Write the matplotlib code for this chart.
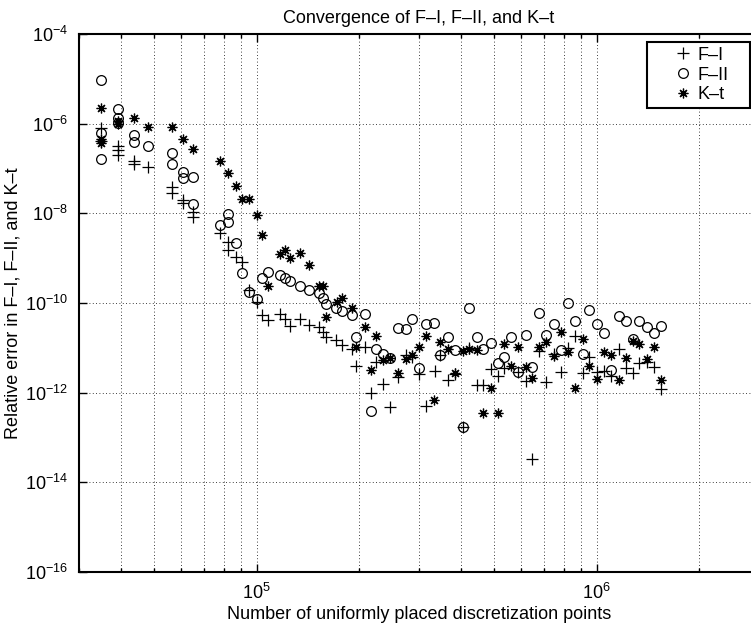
import matplotlib
matplotlib.use("Agg")
import matplotlib.pyplot as plt
from matplotlib.patches import Rectangle
from matplotlib.ticker import LogLocator, NullFormatter, NullLocator

plt.rcParams['font.family'] = ['Liberation Sans', 'DejaVu Sans']
plt.rcParams['mathtext.fontset'] = 'custom'
plt.rcParams['mathtext.rm'] = 'Liberation Sans'

# number of discretization points / relative error
fi_n = [3.49e4, 3.49e4, 3.92e4, 3.92e4, 3.92e4, 4.36e4, 4.36e4, 4.79e4, 5.64e4, 5.64e4,
        6.07e4, 6.07e4, 6.50e4, 6.50e4, 7.80e4, 8.23e4, 8.23e4, 8.66e4, 9.05e4, 9.50e4,
        1.00e5, 1.038e5, 1.08e5, 1.169e5, 1.21e5, 1.256e5, 1.341e5, 1.425e5, 1.522e5, 1.564e5,
        1.603e5, 1.715e5, 1.775e5, 1.90e5, 1.955e5, 2.078e5, 2.164e5, 2.249e5, 2.343e5, 2.473e5,
        2.604e5, 2.74e5, 2.87e5, 3.0e5, 3.156e5, 3.34e5, 3.47e5, 3.64e5, 3.82e5, 4.04e5,
        4.21e5, 4.43e5, 4.63e5, 4.87e5, 5.12e5, 5.33e5, 5.87e5, 6.21e5, 6.47e5, 6.77e5,
        7.11e5, 7.47e5, 7.85e5, 8.23e5, 8.65e5, 9.08e5, 9.49e5, 1.0e6, 1.049e6, 1.102e6,
        1.161e6, 1.217e6, 1.274e6, 1.335e6, 1.403e6, 1.474e6, 1.543e6]
fi_err = [7.98e-7, 4.09e-7, 3.16e-7, 2.58e-7, 1.99e-7, 1.50e-7, 1.25e-7, 1.07e-7, 3.91e-8, 2.90e-8,
          1.97e-8, 1.69e-8, 1.08e-8, 8.36e-9, 3.56e-9, 2.31e-9, 1.56e-9, 1.07e-9, 8.26e-10, 1.93e-10,
          1.06e-10, 5.35e-11, 4.24e-11, 5.62e-11, 4.51e-11, 3.11e-11, 4.49e-11, 3.19e-11, 2.96e-11, 2.26e-11,
          1.75e-11, 1.48e-11, 1.14e-11, 9.64e-12, 3.88e-12, 1.05e-11, 9.84e-13, 4.84e-12, 1.60e-12, 4.84e-13,
          2.24e-12, 6.84e-12, 6.27e-12, 2.67e-12, 4.97e-13, 3.08e-12, 6.80e-12, 1.89e-12, 2.67e-12, 1.73e-13,
          1.00e-11, 1.49e-12, 1.49e-12, 3.45e-12, 2.32e-12, 3.48e-12, 2.90e-12, 1.85e-12, 3.38e-14, 8.40e-12,
          1.71e-12, 7.46e-12, 2.96e-12, 1.01e-11, 1.88e-11, 2.71e-12, 6.17e-12, 2.90e-12, 3.01e-12, 2.32e-12,
          9.40e-12, 3.60e-12, 2.74e-12, 4.53e-12, 4.84e-12, 3.83e-12, 1.22e-12]

fii_n = [3.49e4, 3.49e4, 3.49e4, 3.92e4, 3.92e4, 3.92e4, 4.36e4, 4.36e4, 4.79e4, 5.64e4,
         5.64e4, 6.07e4, 6.07e4, 6.50e4, 6.50e4, 7.80e4, 8.23e4, 8.23e4, 8.66e4, 9.05e4,
         9.50e4, 1.00e5, 1.038e5, 1.08e5, 1.169e5, 1.21e5, 1.256e5, 1.341e5, 1.425e5, 1.522e5,
         1.564e5, 1.603e5, 1.715e5, 1.775e5, 1.903e5, 1.955e5, 2.078e5, 2.164e5, 2.249e5, 2.343e5,
         2.473e5, 2.604e5, 2.74e5, 2.87e5, 3.0e5, 3.156e5, 3.32e5, 3.47e5, 3.64e5, 3.82e5,
         4.04e5, 4.21e5, 4.43e5, 4.63e5, 4.87e5, 5.12e5, 5.33e5, 5.61e5, 5.87e5, 6.21e5,
         6.47e5, 6.77e5, 7.11e5, 7.47e5, 7.84e5, 8.23e5, 8.65e5, 9.08e5, 9.49e5, 1.0e6,
         1.049e6, 1.102e6, 1.161e6, 1.217e6, 1.274e6, 1.335e6, 1.403e6, 1.474e6, 1.543e6]
fii_err = [9.40e-6, 6.17e-7, 1.60e-7, 2.15e-6, 1.35e-6, 1.06e-6, 5.57e-7, 3.94e-7, 3.21e-7, 2.26e-7,
           1.27e-7, 8.44e-8, 6.27e-8, 6.40e-8, 1.59e-8, 5.60e-9, 9.75e-9, 6.37e-9, 2.13e-9, 4.55e-10,
           1.77e-10, 1.26e-10, 3.61e-10, 4.94e-10, 4.24e-10, 3.61e-10, 3.10e-10, 2.37e-10, 2.00e-10, 1.66e-10,
           1.28e-10, 9.31e-11, 7.73e-11, 6.49e-11, 5.42e-11, 1.75e-11, 5.83e-11, 3.94e-13, 9.31e-12, 7.46e-12,
           6.07e-12, 2.84e-11, 2.58e-11, 4.42e-11, 3.60e-12, 3.37e-11, 3.60e-11, 6.76e-12, 1.75e-11, 8.83e-12,
           1.73e-13, 7.54e-11, 1.75e-11, 9.31e-12, 1.29e-11, 4.60e-12, 6.27e-12, 1.75e-11, 2.90e-12, 1.91e-11,
           3.75e-12, 6.01e-11, 1.98e-11, 3.48e-11, 8.98e-12, 1.00e-10, 3.98e-11, 7.31e-12, 6.90e-11, 3.35e-11,
           2.12e-11, 3.21e-12, 5.26e-11, 3.93e-11, 1.54e-11, 3.97e-11, 2.88e-11, 2.09e-11, 3.03e-11]

kt_n = [3.49e4, 3.49e4, 3.49e4, 3.92e4, 3.92e4, 4.36e4, 4.79e4, 5.64e4, 6.07e4, 6.50e4,
        7.80e4, 8.23e4, 8.66e4, 9.05e4, 9.50e4, 1.00e5, 1.038e5, 1.08e5, 1.169e5, 1.21e5,
        1.256e5, 1.341e5, 1.425e5, 1.522e5, 1.564e5, 1.603e5, 1.721e5, 1.775e5, 1.903e5, 1.955e5,
        2.078e5, 2.164e5, 2.249e5, 2.343e5, 2.473e5, 2.604e5, 2.74e5, 2.87e5, 3.0e5, 3.156e5,
        3.33e5, 3.47e5, 3.64e5, 3.82e5, 4.03e5, 4.21e5, 4.43e5, 4.63e5, 4.87e5, 5.12e5,
        5.33e5, 5.61e5, 5.87e5, 6.21e5, 6.47e5, 6.77e5, 7.11e5, 7.47e5, 7.84e5, 8.23e5,
        8.65e5, 9.08e5, 9.49e5, 1.0e6, 1.049e6, 1.102e6, 1.161e6, 1.217e6, 1.274e6, 1.335e6,
        1.403e6, 1.474e6, 1.543e6]
kt_err = [2.23e-6, 4.65e-7, 3.69e-7, 1.14e-6, 1.00e-6, 1.37e-6, 8.53e-7, 8.53e-7, 4.53e-7, 2.68e-7,
          1.48e-7, 8.10e-8, 4.15e-8, 2.11e-8, 2.11e-8, 9.12e-9, 3.26e-9, 2.37e-10, 1.27e-9, 1.51e-9,
          9.84e-10, 1.31e-9, 7.08e-10, 2.35e-10, 2.37e-10, 4.90e-11, 1.03e-10, 1.28e-10, 7.85e-11, 1.07e-11,
          2.93e-11, 3.16e-12, 1.86e-11, 5.28e-12, 6.07e-12, 2.75e-12, 5.77e-12, 6.84e-12, 1.05e-11, 1.84e-11,
          6.91e-13, 1.36e-11, 9.64e-12, 2.75e-12, 8.53e-12, 9.31e-12, 8.83e-12, 3.47e-13, 1.30e-12, 3.47e-13,
          1.19e-11, 3.88e-12, 1.05e-11, 3.75e-12, 2.13e-12, 1.05e-11, 1.36e-11, 6.67e-12, 2.23e-11, 7.89e-12,
          1.30e-12, 1.56e-11, 3.93e-12, 2.07e-12, 7.95e-12, 7.08e-12, 1.96e-12, 6.01e-12, 1.43e-11, 1.19e-11,
          5.77e-12, 1.02e-11, 1.89e-12]

series_names = ['F\u2013I', 'F\u2013II', 'K\u2013t']
x_range = (3e4, 3e6)
y_ticks = [1e-16, 1e-14, 1e-12, 1e-10, 1e-8, 1e-6, 1e-4]

FS = 13
W, H = 751, 626
fig = plt.figure(figsize=(W / 100, H / 100), dpi=100)
# axes run a little past the right edge of the figure, as in the original crop
ax = fig.add_axes([79 / W, 54 / H, 680 / W, 538 / H])

ms = 7
ax.plot(fi_n, fi_err, linestyle='none', marker='+', ms=ms + 1, mew=0.9, color='k', label=series_names[0])
ax.plot(fii_n, fii_err, linestyle='none', marker='o', ms=ms, mew=0.9, mfc='none', color='k', label=series_names[1])
ax.plot(kt_n, kt_err, linestyle='none', marker=(8, 2, 0), ms=ms, mew=0.9, color='k', label=series_names[2])

ax.set_xscale('log')
ax.set_yscale('log')
ax.set_xlim(*x_range)
ax.set_ylim(y_ticks[0], y_ticks[-1])
ax.set_yticks(y_ticks)
ax.yaxis.set_minor_locator(NullLocator())
ax.xaxis.set_major_locator(LogLocator(base=10))
ax.xaxis.set_minor_locator(LogLocator(base=10, subs=range(2, 10)))
ax.xaxis.set_minor_formatter(NullFormatter())

dots = (0, (1, 3))
ax.grid(which='major', color='k', linestyle=dots, linewidth=0.6)
ax.grid(which='minor', axis='x', color='k', linestyle=dots, linewidth=0.6)

for s in ax.spines.values():
    s.set_linewidth(1.5)
ax.tick_params(which='both', direction='in', top=True, right=True, labelsize=FS, width=1)
ax.tick_params(which='major', length=6, pad=8)
ax.tick_params(which='minor', length=3)

ax.set_title('Convergence of F\u2013I, F\u2013II, and K\u2013t', fontsize=FS, pad=8)
ax.set_xlabel('Number of uniformly placed discretization points', fontsize=FS, labelpad=2)
ax.set_ylabel('Relative error in F\u2013I, F\u2013II, and K\u2013t', fontsize=FS, labelpad=2)

# legend: entries without frame, MATLAB-style box drawn separately (figure pixels)
box_x0, box_y0, box_x1, box_y1 = 647, 42, 750, 108
ax.add_patch(Rectangle((box_x0 / W, 1 - box_y1 / H), (box_x1 - box_x0) / W, (box_y1 - box_y0) / H,
                       transform=fig.transFigure, clip_on=False, facecolor='white',
                       edgecolor='k', linewidth=1.5, zorder=4.5))
leg = ax.legend(loc='center left', bbox_to_anchor=(663 / W, 1 - (box_y0 + box_y1) / 2 / H),
                bbox_transform=fig.transFigure, fontsize=FS, numpoints=1, frameon=False,
                handlelength=1.0, handletextpad=0.3, borderpad=0.1, labelspacing=0.15)
leg.set_zorder(5)

fig.savefig('out.png', dpi=100, facecolor='white')
